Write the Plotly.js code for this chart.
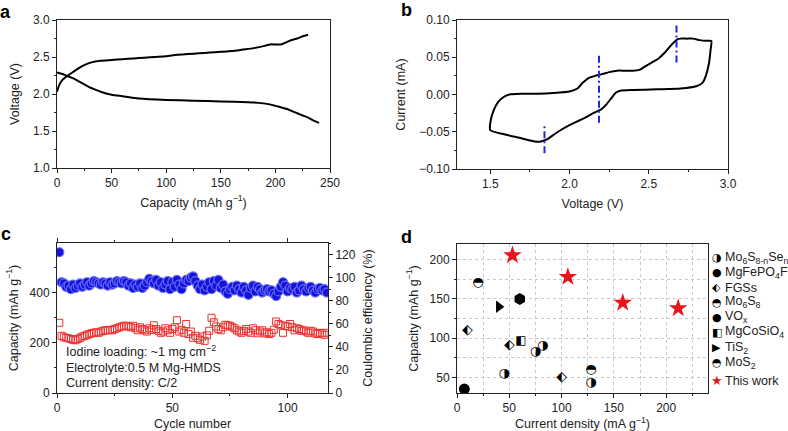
<!DOCTYPE html>
<html><head><meta charset="utf-8">
<script src="https://cdn.plot.ly/plotly-3.0.1.min.js"></script>
<style>html,body{margin:0;padding:0;background:#fff}#chart{width:788px;height:431px}</style>
</head><body><div id="chart"></div>
<script>
// ---------- Panel a: charge / discharge ----------
const chargeCap = [0, 2, 5, 10, 15, 20, 25, 30, 35, 40, 50, 60, 70, 80, 90, 100, 110, 120, 130, 140, 150, 160, 170, 180, 190, 195, 200, 205, 210, 215, 220, 225, 230];
const chargeV   = [2.03, 2.12, 2.19, 2.25, 2.30, 2.35, 2.39, 2.42, 2.44, 2.45, 2.46, 2.47, 2.48, 2.49, 2.50, 2.51, 2.53, 2.54, 2.55, 2.56, 2.57, 2.58, 2.60, 2.62, 2.65, 2.67, 2.67, 2.67, 2.70, 2.73, 2.75, 2.78, 2.80];
const dischargeCap = [0, 5, 10, 15, 20, 25, 30, 35, 40, 50, 60, 75, 100, 125, 150, 175, 185, 195, 200, 205, 210, 215, 220, 225, 230, 235, 240];
const dischargeV   = [2.29, 2.27, 2.24, 2.21, 2.17, 2.13, 2.09, 2.06, 2.03, 1.99, 1.97, 1.94, 1.92, 1.91, 1.90, 1.89, 1.88, 1.86, 1.84, 1.82, 1.80, 1.77, 1.74, 1.71, 1.68, 1.64, 1.61];

// ---------- Panel b: cyclic voltammogram ----------
const cvV = [1.50, 1.50, 1.52, 1.55, 1.58, 1.62, 1.70, 1.80, 1.90, 2.00, 2.05, 2.08, 2.12, 2.16, 2.20, 2.25, 2.30, 2.35, 2.40, 2.44, 2.48, 2.52, 2.56, 2.60, 2.64, 2.68, 2.70, 2.74, 2.78, 2.82, 2.86, 2.895, 2.89, 2.88, 2.86, 2.84, 2.80, 2.70, 2.55, 2.40, 2.32, 2.29, 2.26, 2.23, 2.20, 2.15, 2.10, 2.05, 2.00, 1.95, 1.90, 1.86, 1.82, 1.78, 1.70, 1.60, 1.50];
const cvI = [-0.048, -0.038, -0.022, -0.010, -0.004, 0.000, 0.001, 0.001, 0.002, 0.004, 0.008, 0.015, 0.022, 0.025, 0.027, 0.030, 0.032, 0.032, 0.032, 0.033, 0.038, 0.043, 0.048, 0.056, 0.066, 0.074, 0.075, 0.075, 0.075, 0.073, 0.072, 0.072, 0.060, 0.042, 0.025, 0.016, 0.011, 0.008, 0.007, 0.006, 0.005, 0.002, -0.006, -0.014, -0.020, -0.025, -0.031, -0.036, -0.041, -0.047, -0.054, -0.060, -0.063, -0.063, -0.059, -0.054, -0.048];
const peakV    = [1.842, 2.186, 2.675];
const peakLow  = [-0.079, -0.038, 0.043];
const peakHigh = [-0.040, 0.054, 0.093];

// ---------- Panel c: cycling ----------
const cycles = [1,2,3,4,5,6,7,8,9,10,11,12,13,14,15,16,17,18,19,20,21,22,23,24,25,26,27,28,29,30,31,32,33,34,35,36,37,38,39,40,41,42,43,44,45,46,47,48,49,50,51,52,53,54,55,56,57,58,59,60,61,62,63,64,65,66,67,68,69,70,71,72,73,74,75,76,77,78,79,80,81,82,83,84,85,86,87,88,89,90,91,92,93,94,95,96,97,98,99,100,101,102,103,104,105,106,107,108,109,110,111,112,113,114,115,116,117];
const capacity = [280,228,222,220,218,215,212,210,215,220,225,228,232,235,238,240,242,240,245,248,250,250,252,250,255,258,262,265,268,268,265,262,268,258,250,262,255,250,245,258,252,270,255,248,240,245,258,250,240,255,262,290,245,252,240,275,235,245,220,228,218,212,225,208,230,248,300,282,265,255,250,262,272,270,268,262,258,250,245,240,248,255,245,240,258,250,238,245,250,238,242,235,240,252,285,275,270,240,268,265,275,262,250,258,255,248,250,245,240,248,245,238,235,240,238,232,240];
const efficiency = [122,96,95,92,93,90,94,91,93,95,92,94,96,93,95,97,96,95,94,96,95,93,96,94,95,97,96,95,97,96,93,95,91,94,92,95,91,93,96,99,97,95,98,93,96,91,94,97,90,96,92,98,94,90,95,98,97,100,101,97,93,90,94,89,92,96,90,97,93,98,91,94,88,86,90,92,89,93,90,87,92,89,85,91,93,88,92,90,87,89,90,88,89,86,84,88,92,96,93,88,91,90,92,87,89,93,90,88,91,92,89,87,90,91,89,90,87];

// ---------- Panel d: comparison ----------
const mo6s8nsenX = [45, 75, 82, 128];   const mo6s8nsenY = [55, 83, 90, 43];
const mgfepo4fX  = [7];                 const mgfepo4fY  = [35];
const fgssX      = [10, 50, 100];       const fgssY      = [110, 90, 50];
const mo6s8X     = [128];               const mo6s8Y     = [60];
const voxX       = [60];                const voxY       = [150];
const mgcosio4X  = [61];                const mgcosio4Y  = [96];
const tis2X      = [40];                const tis2Y      = [140];
const mos2X      = [20];                const mos2Y      = [170];
const thisWorkX  = [53, 106, 158.5, 211.5]; const thisWorkY = [205.5, 178, 145, 138];

const legendNames  = ['Mo<sub>6</sub>S<sub>8-n</sub>Se<sub>n</sub>', 'MgFePO<sub>4</sub>F', 'FGSs', 'Mo<sub>6</sub>S<sub>8</sub>', 'VO<sub>x</sub>', 'MgCoSiO<sub>4</sub>', 'TiS<sub>2</sub>', 'MoS<sub>2</sub>', 'This work'];
const legendGlyphs = ['\u25D1', '\u25CF', '\u2B16', '\u25D3', '\u25CF', '\u25E7', '\u25B6', '\u25D3', '\u2605'];
const legendColors = ['#000', '#000', '#000', '#000', '#000', '#000', '#000', '#000', '#e8141b'];

const FONT = 'Liberation Sans, Arial, sans-serif';
const GLYPH = 'DejaVu Sans';
const AX = '#222';
const BLUE = '#2525e6';

const traces = [
  {x: chargeCap, y: chargeV, xaxis: 'x', yaxis: 'y', mode: 'lines', line: {color: '#000', width: 2, shape: 'spline', smoothing: 0.6}, showlegend: false},
  {x: dischargeCap, y: dischargeV, xaxis: 'x', yaxis: 'y', mode: 'lines', line: {color: '#000', width: 2, shape: 'spline', smoothing: 0.6}, showlegend: false},
  {x: cvV, y: cvI, xaxis: 'x2', yaxis: 'y2', mode: 'lines', line: {color: '#000', width: 2, shape: 'spline', smoothing: 0.5}, showlegend: false}
];
for (let i = 0; i < peakV.length; i++) {
  traces.push({x: [peakV[i], peakV[i]], y: [peakLow[i], peakHigh[i]], xaxis: 'x2', yaxis: 'y2', mode: 'lines',
    line: {color: BLUE, width: 2, dash: '7px,3px,2px,3px'}, showlegend: false});
}
traces.push({x: cycles, y: capacity, xaxis: 'x3', yaxis: 'y3', mode: 'markers',
  marker: {symbol: 'square-open', size: 7, color: '#ee3030', line: {width: 1}}, showlegend: false});
traces.push({x: cycles, y: efficiency, xaxis: 'x3', yaxis: 'y4', mode: 'markers',
  marker: {symbol: 'circle', size: 9, color: '#1414d8', line: {color: '#6a6aff', width: 1.2}}, showlegend: false});
function glyphTrace(x, y, g, size) {
  return {x: x, y: y, xaxis: 'x4', yaxis: 'y5', mode: 'text', text: x.map(() => g),
    textposition: 'middle center', textfont: {family: GLYPH, size: size, color: '#000'}, showlegend: false, hoverinfo: 'x+y'};
}
traces.push(glyphTrace(mo6s8nsenX, mo6s8nsenY, '\u25D1', 13));
traces.push(glyphTrace(fgssX, fgssY, '\u2B16', 14));
traces.push(glyphTrace(mo6s8X, mo6s8Y, '\u25D3', 13));
traces.push(glyphTrace(mgcosio4X, mgcosio4Y, '\u25E7', 12));
traces.push(glyphTrace(mos2X, mos2Y, '\u25D3', 13));
traces.push({x: mgfepo4fX, y: mgfepo4fY, xaxis: 'x4', yaxis: 'y5', mode: 'markers', marker: {symbol: 'circle', size: 11, color: '#000'}, showlegend: false});
traces.push({x: voxX, y: voxY, xaxis: 'x4', yaxis: 'y5', mode: 'markers', marker: {symbol: 'hexagon', size: 12, color: '#000'}, showlegend: false});
traces.push({x: tis2X, y: tis2Y, xaxis: 'x4', yaxis: 'y5', mode: 'markers', marker: {symbol: 'triangle-right', size: 11, color: '#000'}, showlegend: false});
traces.push({x: thisWorkX, y: thisWorkY, xaxis: 'x4', yaxis: 'y5', mode: 'markers', marker: {symbol: 'star', size: 14, color: '#e8141b', line: {width: 0}}, showlegend: false});

function axis(extra) {
  return Object.assign({
    showline: true, linecolor: AX, linewidth: 1, mirror: true, zeroline: false, showgrid: false,
    ticks: 'outside', ticklen: 4, tickcolor: AX, tickwidth: 1,
    tickfont: {family: FONT, size: 12, color: '#222'}
  }, extra);
}
function ttl(t, standoff) { return {text: t, font: {family: FONT, size: 12.5, color: '#222'}, standoff: standoff}; }

const yf = (top, bottom) => [1 - bottom / 431, 1 - top / 431];
const xf = (l, r) => [l / 788, r / 788];

const layout = {
  width: 788, height: 431, margin: {l: 0, r: 0, t: 0, b: 0},
  paper_bgcolor: '#fff', plot_bgcolor: '#fff', showlegend: false,
  font: {family: FONT, color: '#222'},
  xaxis: axis({domain: xf(57, 330), anchor: 'y', range: [0, 250], tick0: 0, dtick: 50,
    minor: {ticks: 'outside', ticklen: 2, dtick: 25, tickcolor: AX}, title: ttl('Capacity (mAh g<sup>−1</sup>)', 8)}),
  yaxis: axis({domain: yf(20, 168), anchor: 'x', range: [1, 3], tick0: 0, dtick: 0.5, tickformat: '.1f',
    minor: {ticks: 'outside', ticklen: 2, dtick: 0.25, tickcolor: AX}, title: ttl('Voltage (V)', 10)}),
  xaxis2: axis({domain: xf(457, 728), anchor: 'y2', range: [1.29, 3.0], tick0: 0, dtick: 0.5, tickformat: '.1f',
    minor: {ticks: 'outside', ticklen: 2, dtick: 0.25, tickcolor: AX}, title: ttl('Voltage (V)', 8)}),
  yaxis2: axis({domain: yf(20, 169), anchor: 'x2', range: [-0.1, 0.1], tick0: 0, dtick: 0.05, tickformat: '.2f',
    minor: {ticks: 'outside', ticklen: 2, dtick: 0.025, tickcolor: AX}, title: ttl('Current (mA)', 10)}),
  xaxis3: axis({domain: xf(57, 328), anchor: 'y3', range: [0, 117.5], tick0: 0, dtick: 50, mirror: 'ticks',
    minor: {ticks: 'outside', ticklen: 2, dtick: 25, tickcolor: AX}, title: ttl('Cycle number', 6)}),
  yaxis3: axis({domain: yf(243, 393), anchor: 'x3', range: [0, 598], tick0: 0, dtick: 200, mirror: false,
    minor: {ticks: 'outside', ticklen: 2, dtick: 100, tickcolor: AX}, title: ttl('Capacity (mAh g<sup>−1</sup>)', 8)}),
  yaxis4: axis({domain: yf(243, 393), anchor: 'x3', overlaying: 'y3', side: 'right', range: [0, 130], tick0: 0, dtick: 20, mirror: false,
    minor: {ticks: 'outside', ticklen: 2, dtick: 10, tickcolor: AX}, title: ttl('Coulombic efficiency (%)', 8)}),
  xaxis4: axis({domain: xf(457, 708), anchor: 'y5', range: [0, 240], tick0: 0, dtick: 50,
    showgrid: true, gridcolor: '#c9c9c9', griddash: 'dot', gridwidth: 1,
    minor: {ticks: 'outside', ticklen: 2, dtick: 25, tickcolor: AX, showgrid: true, gridcolor: '#c9c9c9', griddash: 'dot', gridwidth: 1},
    title: ttl('Current density (mA g<sup>−1</sup>)', 8)}),
  yaxis5: axis({domain: yf(244, 393), anchor: 'x4', range: [30, 220], tick0: 0, dtick: 50,
    showgrid: true, gridcolor: '#c9c9c9', griddash: 'dot', gridwidth: 1,
    minor: {ticks: 'outside', ticklen: 2, dtick: 25, tickcolor: AX, showgrid: true, gridcolor: '#c9c9c9', griddash: 'dot', gridwidth: 1},
    title: ttl('Capacity (mAh g<sup>−1</sup>)', 8)}),
  annotations: []
};

const panelLabels = [['a', 5, 12], ['b', 406, 10], ['c', 6, 234], ['d', 406, 237]];
panelLabels.forEach(p => layout.annotations.push({text: '<b>' + p[0] + '</b>', xref: 'paper', yref: 'paper',
  x: p[1] / 788, y: 1 - p[2] / 431, xanchor: 'center', yanchor: 'middle', showarrow: false,
  font: {family: FONT, size: 18, color: '#000'}}));

const noteLines = ['Iodine loading: ~1 mg cm<sup>−2</sup>', 'Electrolyte:0.5 M Mg-HMDS', 'Current density: C/2'];
const noteY = [351, 368, 383];
noteLines.forEach((t, i) => layout.annotations.push({text: t, xref: 'paper', yref: 'paper', x: 64 / 788, y: 1 - noteY[i] / 431,
  xanchor: 'left', yanchor: 'middle', showarrow: false, font: {family: FONT, size: 12.5, color: '#222'}}));

const legRowY = [257.5, 272.5, 287.5, 302, 317, 332, 347.5, 362.5, 380.5];
legendNames.forEach((n, i) => {
  layout.annotations.push({text: legendGlyphs[i], xref: 'paper', yref: 'paper', x: 716.5 / 788, y: 1 - legRowY[i] / 431,
    xanchor: 'center', yanchor: 'middle', showarrow: false, font: {family: GLYPH, size: i === 8 ? 13 : 11, color: legendColors[i]}});
  layout.annotations.push({text: n, xref: 'paper', yref: 'paper', x: 723 / 788, y: 1 - legRowY[i] / 431,
    xanchor: 'left', yanchor: 'middle', showarrow: false, font: {family: FONT, size: 12.5, color: '#222'}});
});

Plotly.newPlot('chart', traces, layout, {displayModeBar: false, staticPlot: true});
</script>
</body></html>
